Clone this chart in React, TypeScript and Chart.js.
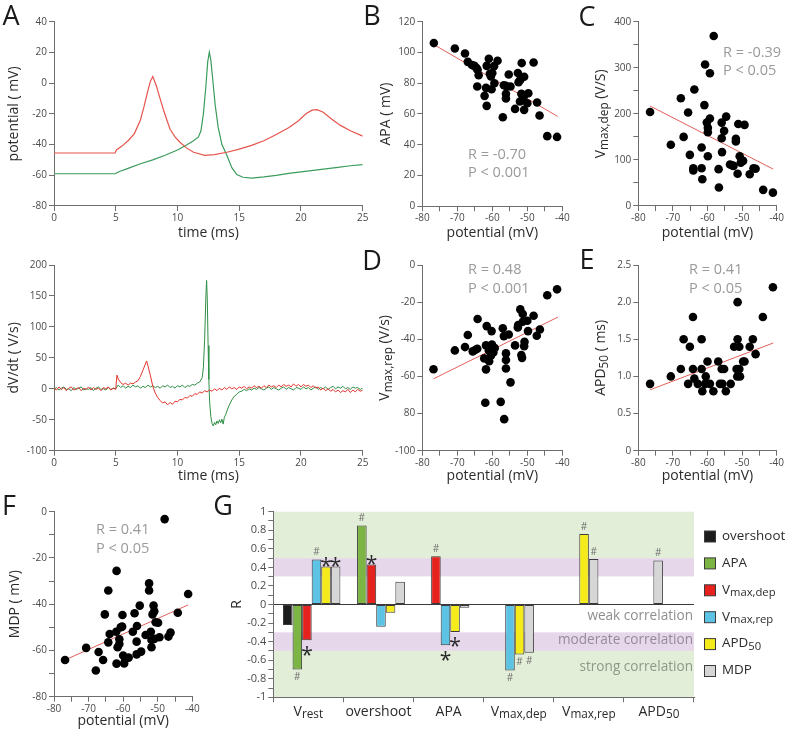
import React, { useEffect, useRef } from 'react';
import { Chart, registerables } from 'chart.js';

Chart.register(...registerables);

const W = 789;
const H = 732;
const FONT = '"Open Sans", "DejaVu Sans", sans-serif';
const AXIS = '#6e6e6e';
const TICK = '#4a4a4a';
const TITLE = '#2b2b2b';
const STAT = '#9a9a9a';
const FIT = '#e2605a';
const WY = 40; // fixed y-axis box width
const HX = 20; // fixed x-axis box height

type Run = [string, boolean];
type Area = { l: number; t: number; r: number; b: number };

// ---------- Panel A: membrane potential (mV) ----------
const apTimeRed = [0, 4.95, 5.05, 5.5, 6, 6.5, 7, 7.3, 7.6, 7.8, 8.0, 8.3, 8.55, 8.85, 9.1, 9.4, 9.8, 10.2, 10.7, 11.3, 12.2, 13, 14, 15, 16, 17, 18, 19, 19.8, 20.4, 20.9, 21.3, 21.8, 22.5, 23.2, 24, 25];
const apRed = [-45.5, -45.5, -43.5, -41, -37.5, -33, -24, -15, -5, 1, 4.3, -2, -9, -17, -23, -30, -35, -38.5, -42, -45, -47, -46.5, -45, -43, -40.5, -37.5, -33.5, -29, -24.5, -20, -17.6, -17.3, -19, -23.5, -27.5, -31, -34.5];
const apTimeGreen = [0, 4.95, 5.3, 6, 7, 8, 9, 10, 10.8, 11.3, 11.7, 11.9, 12.1, 12.3, 12.45, 12.58, 12.7, 12.85, 13.05, 13.3, 13.6, 14.0, 14.4, 14.8, 15.3, 16, 17, 18, 19, 20, 21, 22, 23, 24, 25];
const apGreen = [-59, -59, -57.5, -55.5, -52.5, -50, -47, -43.5, -40, -37.5, -35, -31, -20, -2, 14, 20.2, 15, 3, -14, -29, -40, -47, -55, -59.5, -61.3, -61.8, -61, -60, -58.8, -57.8, -56.8, -55.8, -54.8, -53.8, -53];

// ---------- Panel A: dV/dt (V/s) ----------
const dvdtTimeRed = [0, 0.2, 0.4, 0.6, 0.8, 1.0, 1.2, 1.4, 1.6, 1.8, 2.0, 2.2, 2.4, 2.6, 2.8, 3.0, 3.2, 3.4, 3.6, 3.8, 4.0, 4.2, 4.4, 4.6, 4.8, 5.0,
  5.1, 5.2, 5.4, 5.6, 5.8, 6.0, 6.2, 6.4, 6.6, 6.8, 7.0, 7.2, 7.4, 7.5, 7.6, 7.8, 8.0, 8.2, 8.4, 8.6, 8.8, 9.0, 9.2, 9.4, 9.6, 9.8,
  10.0, 10.2, 10.4, 10.6, 10.8, 11.0, 11.2, 11.4, 11.6, 11.8, 12.0, 12.2, 12.4, 12.6, 12.8, 13.0, 13.2, 13.4, 13.6, 13.8, 14.0, 14.2, 14.4, 14.6, 14.8,
  15.0, 15.2, 15.4, 15.6, 15.8, 16.0, 16.2, 16.4, 16.6, 16.8, 17.0, 17.2, 17.4, 17.6, 17.8, 18.0, 18.2, 18.4, 18.6, 18.8, 19.0, 19.2, 19.4, 19.6, 19.8,
  20.0, 20.2, 20.4, 20.6, 20.8, 21.0, 21.2, 21.4, 21.6, 21.8, 22.0, 22.2, 22.4, 22.6, 22.8, 23.0, 23.2, 23.4, 23.6, 23.8, 24.0, 24.2, 24.4, 24.6, 24.8, 25.0];
const dvdtRed = [1, -2, 3, -1, 2, -3, 1, 3, -2, 0, 2, -3, 1, -1, 3, -2, 2, -1, 1, -3, 2, 0, 3, -2, 1, -1,
  22, 16, 10, 7, 9, 6, 9, 8, 11, 13, 20, 30, 40, 45, 38, 22, 4, -7, -14, -19, -23, -21, -26, -22, -25, -20,
  -21, -17, -18, -14, -15, -11, -12, -8, -9, -5, -7, -3, -5, -2, -4, 0, -3, 1, -2, 2, -1, 3, 0, 2, -1,
  3, 1, 4, 0, 3, 1, 5, 2, 4, 1, 5, 2, 6, 3, 5, 2, 6, 3, 7, 4, 6, 3, 8, 4, 7,
  3, 7, 4, 6, 2, 5, 1, 3, -2, 1, -3, 0, -4, -1, -5, -2, -6, -3, -5, -1, -6, -2, -5, -1, -4, -2];
const dvdtTimeGreen = [0, 0.2, 0.4, 0.6, 0.8, 1.0, 1.2, 1.4, 1.6, 1.8, 2.0, 2.2, 2.4, 2.6, 2.8, 3.0, 3.2, 3.4, 3.6, 3.8, 4.0, 4.2, 4.4, 4.6, 4.8, 5.0,
  5.2, 5.4, 5.6, 5.8, 6.0, 6.2, 6.4, 6.6, 6.8, 7.0, 7.2, 7.4, 7.6, 7.8, 8.0, 8.2, 8.4, 8.6, 8.8, 9.0, 9.2, 9.4, 9.6, 9.8,
  10.0, 10.2, 10.4, 10.6, 10.8, 11.0, 11.2, 11.4, 11.6, 11.8, 12.0, 12.1, 12.2, 12.3, 12.36, 12.42, 12.48, 12.54, 12.6, 12.7, 12.8, 12.9,
  13.0, 13.1, 13.2, 13.3, 13.4, 13.5, 13.6, 13.7, 13.8, 13.9, 14.0, 14.2, 14.4, 14.6, 14.8, 15.0, 15.2, 15.4, 15.6, 15.8,
  16.0, 16.2, 16.4, 16.6, 16.8, 17.0, 17.2, 17.4, 17.6, 17.8, 18.0, 18.2, 18.4, 18.6, 18.8, 19.0, 19.2, 19.4, 19.6, 19.8,
  20.0, 20.2, 20.4, 20.6, 20.8, 21.0, 21.2, 21.4, 21.6, 21.8, 22.0, 22.2, 22.4, 22.6, 22.8, 23.0, 23.2, 23.4, 23.6, 23.8, 24.0, 24.2, 24.4, 24.6, 24.8, 25.0];
const dvdtGreen = [-1, 2, -2, 1, 3, -1, 0, -3, 2, -1, 1, 3, -2, 0, -1, 2, -3, 1, 3, -1, 0, -2, 2, -1, 1, 0,
  6, 2, 5, 1, 4, 2, 6, 3, 5, 1, 4, 2, 6, 3, 5, 2, 4, 1, 5, 3, 6, 2, 4, 1,
  5, 3, 6, 2, 5, 4, 7, 6, 9, 11, 18, 35, 80, 150, 175, 140, 70, 15, -20, -45, -56, -60,
  -54, -58, -52, -56, -50, -55, -49, -57, -46, -42, -36, -26, -18, -12, -9, -5, -4, -1, -3, 0,
  -2, 1, -1, 2, 0, -2, 1, 3, -1, 2, 0, -2, 1, 3, -1, 2, 0, -2, 2, 1,
  -1, 3, 0, 2, -2, 1, 3, -1, 2, 0, 3, -1, 2, 4, 0, 3, 1, 4, 0, 2, -1, 3, 1, 2, -1, 1];

// ---------- Panel B: APA vs resting potential ----------
const restB = [-76.7, -70.7, -67.8, -67.0, -65.8, -65.1, -64.5, -64.2, -63.9, -64.3, -62.2, -61.6, -61.8, -61.6, -61.0, -60.4, -60.7, -60.0, -60.2, -59.5, -59.4, -58.5, -57.0, -56.7, -56.1, -56.1, -55.3, -56.1, -54.8, -53.5, -52.7, -52.5, -52.0, -51.6, -51.7, -51.3, -50.9, -50.8, -50.9, -50.0, -49.7, -48.2, -47.2, -46.5, -44.3, -41.5, -52.1];
const apaB = [106.1, 102.6, 99.3, 93.9, 91.8, 91.3, 89.8, 88.7, 85.2, 77.9, 71.8, 65.3, 77.0, 91.3, 95.9, 84.4, 86.1, 86.6, 76.1, 91.1, 80.0, 94.6, 57.9, 78.7, 73.1, 70.1, 85.7, 78.3, 77.9, 63.3, 86.6, 80.7, 82.2, 93.1, 73.1, 69.2, 84.2, 72.0, 62.7, 67.0, 73.5, 93.5, 67.5, 59.0, 45.6, 45.1, 68.1];
const fitBX = [-76.6, -41.3];
const fitBY = [105, 58.4];

// ---------- Panel C: Vmax,dep vs resting potential ----------
const restC = [-76.6, -70.6, -67.7, -66.9, -65.6, -65.1, -64.1, -64.1, -63.8, -61.7, -61.7, -61.5, -60.9, -60.7, -60.2, -59.9, -59.9, -59.9, -59.3, -59.3, -58.2, -56.8, -56.7, -55.9, -55.9, -55.8, -55.2, -54.6, -53.5, -52.5, -51.8, -51.8, -51.3, -51.1, -50.7, -50.4, -49.7, -49.3, -47.8, -46.7, -46.1, -43.9, -41.1, -52.8];
const vmaxDepC = [204, 133, 234, 150, 203, 111, 82, 77, 253, 127, 82, 58, 219, 307, 181, 170, 160, 108, 288, 190, 369, 80, 40, 181, 147, 117, 163, 194, 90, 87, 146, 140, 70, 178, 108, 94, 98, 176, 69, 82, 81, 35, 29, 88];
const fitCX = [-76.6, -41.0];
const fitCY = [217, 80];

// ---------- Panel D: Vmax,rep vs resting potential ----------
const restD = [-76.8, -70.7, -67.8, -67.0, -65.6, -64.9, -64.3, -64.2, -62.3, -61.8, -61.6, -61.8, -61.0, -60.9, -60.7, -60.4, -60.2, -60.1, -59.7, -59.3, -57.0, -56.7, -56.1, -56.1, -56.1, -55.3, -54.8, -53.5, -52.7, -52.6, -52.0, -51.7, -51.5, -51.3, -51.3, -50.9, -50.8, -50.0, -49.8, -48.2, -47.3, -46.4, -44.3, -41.5, -62.0, -57.6, -56.6];
const vmaxRepD = [-56.1, -46.0, -44.2, -37.7, -46.5, -45.8, -45.1, -29.1, -50.3, -43.3, -32.9, -56.2, -46.0, -51.8, -44.7, -48.9, -35.6, -42.8, -47.1, -44.7, -34.1, -38.3, -47.6, -51.2, -55.7, -37.4, -63.2, -43.3, -33.6, -32.3, -23.9, -48.5, -50.0, -26.4, -30.6, -43.7, -41.3, -30.0, -35.6, -27.3, -38.1, -34.7, -16.3, -13.1, -74.2, -73.7, -83.0];
const fitDX = [-76.8, -41.2];
const fitDY = [-61.3, -28.0];
const tickLabelsD = ['-100', '80', '-60', '-40', '-20', '0'];

// ---------- Panel E: APD50 vs resting potential ----------
const restE = [-76.6, -70.6, -67.7, -66.9, -65.6, -65.1, -64.2, -64.2, -63.8, -62.8, -61.7, -61.7, -60.5, -60.7, -60.0, -59.3, -56.9, -56.4, -55.9, -55.2, -55.7, -53.3, -52.3, -51.6, -51.4, -51.3, -51.3, -50.8, -50.8, -50.6, -49.7, -49.3, -47.8, -46.9, -46.1, -44.0, -41.1, -61.5, -58.3, -54.7];
const apd50E = [0.9, 1.0, 1.1, 1.5, 0.9, 1.4, 1.8, 1.1, 0.97, 0.9, 1.5, 1.1, 1.0, 0.9, 1.2, 0.9, 1.2, 0.9, 1.1, 1.1, 0.9, 0.9, 1.4, 1.1, 1.0, 2.0, 1.5, 1.4, 1.1, 1.0, 1.2, 1.2, 1.4, 1.5, 1.3, 1.8, 2.2, 0.8, 0.8, 0.8];
const fitEX = [-76.6, -41.0];
const fitEY = [0.82, 1.45];

// ---------- Panel F: MDP vs resting potential ----------
const restF = [-76.8, -70.7, -67.9, -67.1, -65.8, -65.3, -64.3, -64.3, -63.9, -62.0, -61.9, -61.9, -61.6, -61.1, -61.1, -60.7, -60.2, -60.0, -60.3, -59.7, -59.4, -58.4, -57.2, -56.7, -56.1, -56.1, -56.0, -55.2, -54.8, -53.5, -52.5, -52.5, -52.0, -51.8, -51.8, -51.5, -51.2, -51.0, -51.0, -50.6, -49.9, -48.0, -46.9, -46.3, -44.2, -41.2, -49.5];
const mdpF = [-64.1, -58.9, -68.7, -60.7, -64.1, -44.4, -34.1, -56.5, -52.9, -51.9, -25.6, -65.7, -58.6, -57.2, -55.2, -50.0, -44.7, -62.2, -49.7, -65.6, -63.7, -63.1, -51.9, -43.9, -56.2, -61.7, -49.4, -40.6, -60.5, -53.3, -31.0, -34.1, -51.9, -55.5, -58.6, -44.4, -40.6, -43.1, -55.0, -47.8, -48.0, -3.2, -54.0, -52.3, -43.7, -35.6, -54.3];
const fitFX = [-76.8, -41.2];
const fitFY = [-64.1, -40.3];

// ---------- Panel G: correlation coefficients ----------
const gGroups = ['Vrest', 'overshoot', 'APA', 'Vmax,dep', 'Vmax,rep', 'APD50'];
const gGroupRich: Run[][] = [
  [['V', false], ['rest', true]],
  [['overshoot', false]],
  [['APA', false]],
  [['V', false], ['max,dep', true]],
  [['V', false], ['max,rep', true]],
  [['APD', false], ['50', true]],
];
const gSeriesRich: Run[][] = [
  [['overshoot', false]],
  [['APA', false]],
  [['V', false], ['max,dep', true]],
  [['V', false], ['max,rep', true]],
  [['APD', false], ['50', true]],
  [['MDP', false]],
];
const gColors = ['#1c1c1c', '#7cb544', '#e5221d', '#5dc3e4', '#f6eb1a', '#d6d6d6'];
const rOvershoot = [-0.22, null, null, null, null, null];
const rAPA = [-0.70, 0.85, null, null, null, null];
const rVmaxDep = [-0.385, 0.43, 0.52, null, null, null];
const rVmaxRep = [0.485, -0.24, -0.44, -0.71, null, null];
const rAPD50 = [0.41, -0.09, -0.295, -0.54, 0.76, null];
const rMDP = [0.41, 0.245, -0.036, -0.52, 0.49, 0.475];
const mOvershoot = ['', '', '', '', '', ''];
const mAPA = ['#', '#', '', '', '', ''];
const mVmaxDep = ['*', '*', '#', '', '', ''];
const mVmaxRep = ['#', '', '*', '#', '', ''];
const mAPD50 = ['*', '', '*', '#', '#', ''];
const mMDP = ['*', '', '', '#', '#', '#'];
const gValues = [rOvershoot, rAPA, rVmaxDep, rVmaxRep, rAPD50, rMDP];
const gMarks = [mOvershoot, mAPA, mVmaxDep, mVmaxRep, mAPD50, mMDP];
const strengthBands = [1, 0.5, 0.3, -0.3, -0.5, -1];
const strengthFill = ['#e2eed8', '#e6d8ea', '#ffffff', '#e6d8ea', '#e2eed8'];
const strengthText = ['weak correlation', 'moderate correlation', 'strong correlation'];
const strengthTextAt = [-0.13, -0.385, -0.68];
const strengthTextColor = ['#8e8e8e', '#958c9a', '#8e9889'];

// ---------- drawing helpers ----------
function drawRich(ctx: CanvasRenderingContext2D, runs: Run[], x: number, y: number, size: number, color: string, align: 'left' | 'center' | 'right' = 'center', rot = 0) {
  ctx.save();
  ctx.translate(x, y);
  if (rot) ctx.rotate(rot);
  ctx.fillStyle = color;
  ctx.textBaseline = 'middle';
  ctx.textAlign = 'left';
  const sub = size * 0.84;
  let total = 0;
  const widths = runs.map(([t, s]) => {
    ctx.font = `${s ? sub : size}px ${FONT}`;
    const w = ctx.measureText(t).width;
    total += w;
    return w;
  });
  let cx = align === 'center' ? -total / 2 : align === 'right' ? -total : 0;
  runs.forEach(([t, s], i) => {
    ctx.font = `${s ? sub : size}px ${FONT}`;
    ctx.fillText(t, cx, s ? size * 0.22 : 0);
    cx += widths[i];
  });
  ctx.restore();
}

function pad(a: Area) {
  return { left: a.l - WY, top: a.t, right: W - a.r, bottom: H - a.b - HX };
}

function linAxis(min: number, max: number, step: number, label: (v: number) => string, dir: 'x' | 'y', size = 10) {
  return {
    type: 'linear',
    min,
    max,
    border: { display: true, color: AXIS, width: 1 },
    grid: { drawOnChartArea: false, drawTicks: true, tickLength: 5, color: AXIS, tickColor: AXIS },
    ticks: {
      stepSize: step,
      autoSkip: false,
      maxRotation: 0,
      minRotation: 0,
      padding: dir === 'x' ? 1 : 2,
      color: TICK,
      font: { family: FONT, size },
      callback: (v: any) => label(Number(v)),
    },
    afterFit: (s: any) => {
      if (dir === 'x') s.height = HX;
      else s.width = WY;
    },
  };
}

function baseOptions(area: Area, scales: any) {
  return {
    responsive: false,
    animation: false,
    events: [],
    layout: { padding: pad(area), autoPadding: false },
    plugins: { legend: { display: false }, tooltip: { enabled: false } },
    scales,
  };
}

type Deco = {
  letter: string; letterX: number; letterY: number;
  xTitle: Run[]; xOff: number; yTitle: Run[]; yOff: number;
  stat?: string[]; statX?: number; statY?: number;
};

function decoPlugin(d: Deco) {
  return {
    id: 'deco',
    afterDraw(chart: any) {
      const { ctx, chartArea: a } = chart;
      drawRich(ctx, [[d.letter, false]], d.letterX, d.letterY, 27, '#1a1a1a');
      drawRich(ctx, d.xTitle, (a.left + a.right) / 2, a.bottom + d.xOff, 14, TITLE);
      drawRich(ctx, d.yTitle, a.left - d.yOff, (a.top + a.bottom) / 2, 14, TITLE, 'center', -Math.PI / 2);
      if (d.stat) {
        d.stat.forEach((s, i) => drawRich(ctx, [[s, false]], d.statX!, d.statY! + i * 18.5, 14.5, STAT, 'left'));
      }
    },
  };
}

const xy = (xs: number[], ys: number[]) => xs.map((x, i) => ({ x, y: ys[i] }));
const every10 = (v: number) => (Math.round(v) % 10 === 0 ? String(Math.round(v)) : '');

function traceConfig(area: Area, series: { t: number[]; v: number[]; color: string; width: number }[], yMin: number, yMax: number, yStep: number, deco: Deco) {
  return {
    type: 'line',
    data: {
      datasets: series.map((s) => ({
        data: xy(s.t, s.v),
        borderColor: s.color,
        borderWidth: s.width,
        pointRadius: 0,
        tension: 0,
        fill: false,
      })),
    },
    options: baseOptions(area, {
      x: linAxis(0, 25, 5, (v) => String(v), 'x'),
      y: linAxis(yMin, yMax, yStep, (v) => String(v), 'y'),
    }),
    plugins: [decoPlugin(deco)],
  };
}

function scatterConfig(area: Area, xs: number[], ys: number[], fx: number[], fy: number[], yMin: number, yMax: number, yStep: number, yLabel: (v: number) => string, deco: Deco) {
  return {
    type: 'scatter',
    data: {
      datasets: [
        { data: xy(xs, ys), pointRadius: 4.3, pointBackgroundColor: '#000', pointBorderWidth: 0, clip: false },
        { data: xy(fx, fy), showLine: true, borderColor: FIT, borderWidth: 1, pointRadius: 0 },
      ],
    },
    options: baseOptions(area, {
      x: linAxis(-80, -40, 5, every10, 'x'),
      y: linAxis(yMin, yMax, yStep, yLabel, 'y'),
    }),
    plugins: [decoPlugin(deco)],
  };
}

const potentialTitle: Run[] = [['potential (mV)', false]];

const buildATop = () =>
  traceConfig(
    { l: 54, t: 21.7, r: 362.7, b: 206 },
    [
      { t: apTimeRed, v: apRed, color: '#e5554d', width: 1.2 },
      { t: apTimeGreen, v: apGreen, color: '#3b9c5c', width: 1.2 },
    ],
    -80, 40, 20,
    { letter: 'A', letterX: 11, letterY: 17, xTitle: [['time (ms)', false]], xOff: 26.7, yTitle: [['potential ( mV)', false]], yOff: 40 }
  );

const buildABottom = () =>
  traceConfig(
    { l: 54, t: 265, r: 362.7, b: 450.7 },
    [
      { t: dvdtTimeRed, v: dvdtRed, color: '#e3342c', width: 1 },
      { t: dvdtTimeGreen, v: dvdtGreen, color: '#2f8e45', width: 1 },
    ],
    -100, 200, 50,
    { letter: '', letterX: 0, letterY: 0, xTitle: [['time (ms)', false]], xOff: 25.3, yTitle: [['dV/dt ( V/s)', false]], yOff: 40 }
  );

const buildB = () =>
  scatterConfig({ l: 422.3, t: 21.7, r: 562.3, b: 206.3 }, restB, apaB, fitBX, fitBY, 0, 120, 20, (v) => String(v), {
    letter: 'B', letterX: 372, letterY: 17, xTitle: potentialTitle, xOff: 27, yTitle: [['APA ( mV)', false]], yOff: 36,
    stat: ['R = -0.70', 'P < 0.001'], statX: 468, statY: 154.5,
  });

const buildC = () =>
  scatterConfig({ l: 638.3, t: 21.7, r: 776.7, b: 206 }, restC, vmaxDepC, fitCX, fitCY, 0, 400, 50, (v) => (v % 100 === 0 ? String(v) : ''), {
    letter: 'C', letterX: 587, letterY: 18, xTitle: potentialTitle, xOff: 27, yTitle: [['V', false], ['max,dep', true], [' (V/S)', false]], yOff: 37,
    stat: ['R = -0.39', 'P < 0.05'], statX: 723, statY: 52.5,
  });

const buildD = () =>
  scatterConfig({ l: 422.3, t: 265, r: 562.3, b: 450.7 }, restD, vmaxRepD, fitDX, fitDY, -100, 0, 20, (v) => tickLabelsD[Math.round((v + 100) / 20)] ?? '', {
    letter: 'D', letterX: 372, letterY: 262, xTitle: potentialTitle, xOff: 25.3, yTitle: [['V', false], ['max,rep', true], [' (V/s)', false]], yOff: 37,
    stat: ['R = 0.48', 'P < 0.001'], statX: 468, statY: 270,
  });

const buildE = () =>
  scatterConfig({ l: 638.3, t: 265, r: 776.7, b: 450.7 }, restE, apd50E, fitEX, fitEY, 0, 2.5, 0.5, (v) => (Math.abs(v) < 1e-9 ? '0' : v.toFixed(1)), {
    letter: 'E', letterX: 587, letterY: 261, xTitle: potentialTitle, xOff: 25.3, yTitle: [['APD', false], ['50', true], [' ( ms)', false]], yOff: 37,
    stat: ['R = 0.41', 'P < 0.05'], statX: 689, statY: 270,
  });

const buildF = () =>
  scatterConfig({ l: 54, t: 511.7, r: 192.3, b: 696.7 }, restF, mdpF, fitFX, fitFY, -80, 0, 10, (v) => (Math.round(v) % 20 === 0 ? String(Math.round(v)) : ''), {
    letter: 'F', letterX: 9, letterY: 507, xTitle: potentialTitle, xOff: 24, yTitle: [['MDP ( mV)', false]], yOff: 39,
    stat: ['R = 0.41', 'P < 0.05'], statX: 96, statY: 530,
  });

// Correlation bar chart with strength bands, significance marks and legend
const gPlugin = {
  id: 'gDeco',
  beforeDraw(chart: any) {
    const { ctx, chartArea: a, scales } = chart;
    const y = scales.y;
    ctx.save();
    for (let i = 0; i < strengthFill.length; i++) {
      const y0 = y.getPixelForValue(strengthBands[i]);
      const y1 = y.getPixelForValue(strengthBands[i + 1]);
      ctx.fillStyle = strengthFill[i];
      ctx.fillRect(a.left, y0, a.right - a.left, y1 - y0);
    }
    ctx.restore();
  },
  afterDatasetsDraw(chart: any) {
    const { ctx } = chart;
    chart.data.datasets.forEach((ds: any, s: number) => {
      const meta = chart.getDatasetMeta(s);
      ds.data.forEach((d: any, j: number) => {
        if (!d.mark) return;
        const el = meta.data[j];
        const up = d.y >= 0;
        ctx.save();
        ctx.textAlign = 'center';
        if (d.mark === '#') {
          ctx.font = `10px ${FONT}`;
          ctx.fillStyle = '#707070';
          ctx.textBaseline = 'middle';
          ctx.fillText('#', el.x, up ? el.y - 7 : el.y + 8);
        } else {
          ctx.font = `21px ${FONT}`;
          ctx.fillStyle = '#2a2a2a';
          ctx.textBaseline = 'alphabetic';
          const cy = up ? el.y - 5 : el.y + 10;
          ctx.fillText('*', el.x, cy + 11.5);
        }
        ctx.restore();
      });
    });
  },
  afterDraw(chart: any) {
    const { ctx, chartArea: a, scales } = chart;
    drawRich(ctx, [['G', false]], 223, 507, 27, '#1a1a1a');
    drawRich(ctx, [['R', false]], a.left - 36, (a.top + a.bottom) / 2, 14, TITLE, 'center', -Math.PI / 2);
    gGroupRich.forEach((runs, i) => {
      drawRich(ctx, runs, scales.x.getPixelForTick(i), a.bottom + 14.5, 14, TITLE);
    });
    strengthText.forEach((t, i) => {
      drawRich(ctx, [[t, false]], a.right - 1, scales.y.getPixelForValue(strengthTextAt[i]), 13.6, strengthTextColor[i], 'right');
    });
    gSeriesRich.forEach((runs, i) => {
      const cy = 537 + i * 26.9;
      ctx.save();
      ctx.fillStyle = gColors[i];
      ctx.strokeStyle = '#3a3a3a';
      ctx.lineWidth = 1;
      ctx.fillRect(704.5, cy - 6, 11, 11);
      ctx.strokeRect(704.5, cy - 6, 11, 11);
      ctx.restore();
      drawRich(ctx, runs, 722, cy - 1, 13.4, TITLE, 'left');
    });
  },
};

const buildG = () => {
  const area: Area = { l: 273.3, t: 511.7, r: 694, b: 697.3 };
  const yAxis: any = linAxis(-1, 1, 0.1, (v) => {
    const k = Math.round(v * 10);
    return k % 2 === 0 ? String(k / 10) : '';
  }, 'y', 11);
  yAxis.grid = {
    drawOnChartArea: true,
    drawTicks: true,
    tickLength: 5,
    tickColor: AXIS,
    color: (c: any) => (c.tick && Math.abs(c.tick.value) < 1e-9 ? '#3a3a3a' : 'rgba(0,0,0,0)'),
  };
  return {
    type: 'bar',
    data: {
      labels: gGroups,
      datasets: gValues.map((vals, s) => ({
        xAxisID: 'xb',
        yAxisID: 'y',
        data: vals
          .map((v, i) => (v === null ? null : { x: i, y: v, mark: gMarks[s][i] }))
          .filter((d) => d !== null),
        backgroundColor: gColors[s],
        borderColor: '#3a3a3a',
        borderWidth: 1,
        borderSkipped: false,
        categoryPercentage: 0.96,
        barPercentage: 1,
      })),
    },
    options: baseOptions(area, {
      x: {
        type: 'category',
        offset: true,
        border: { display: true, color: AXIS, width: 1 },
        grid: { offset: true, drawOnChartArea: false, drawTicks: true, tickLength: 5, color: AXIS, tickColor: AXIS },
        ticks: { display: false },
        afterFit: (s: any) => { s.height = HX; },
      },
      xb: { type: 'linear', display: false, min: -0.5953, max: 5.927, offset: false },
      y: yAxis,
    }),
    plugins: [gPlugin],
  };
};

const builders = [buildATop, buildABottom, buildB, buildC, buildD, buildE, buildF, buildG];

function Layer({ build }: { build: () => any }) {
  const ref = useRef<HTMLCanvasElement | null>(null);
  useEffect(() => {
    if (!ref.current) return;
    const chart = new Chart(ref.current, build());
    return () => chart.destroy();
  }, [build]);
  return (
    <canvas
      ref={ref}
      width={W}
      height={H}
      style={{ position: 'absolute', left: 0, top: 0, width: W, height: H }}
    />
  );
}

export default function App() {
  return (
    <div style={{ position: 'absolute', left: 0, top: 0, width: W, height: H, background: '#ffffff', overflow: 'hidden' }}>
      {builders.map((b, i) => (
        <Layer key={i} build={b} />
      ))}
    </div>
  );
}
